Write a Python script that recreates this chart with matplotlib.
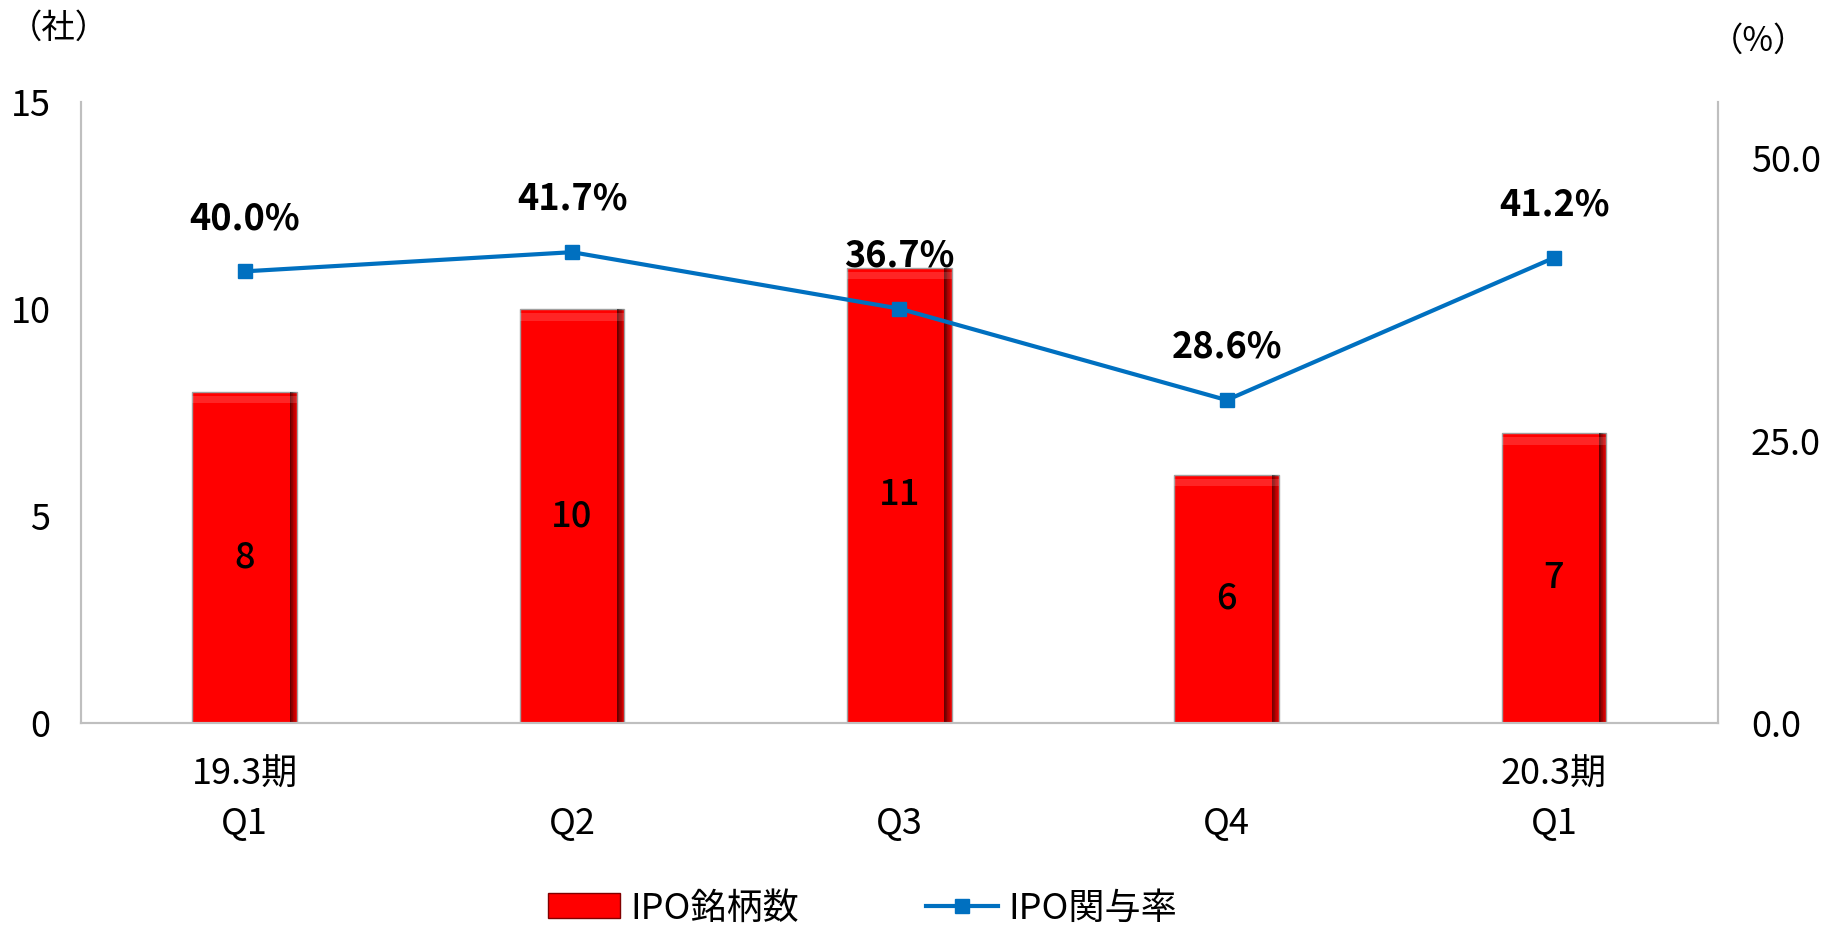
import numpy as np
import matplotlib.pyplot as plt
from matplotlib.lines import Line2D
from matplotlib.patches import Patch

plt.rcParams['font.family'] = ['Noto Sans CJK JP', 'DejaVu Sans']

# データ
quarters = ['19.3期\nQ1', '\nQ2', '\nQ3', '\nQ4', '20.3期\nQ1']
ipo_count = [8, 10, 11, 6, 7]
ipo_rate = [40.0, 41.7, 36.7, 28.6, 41.2]

red = '#FF0000'
blue = '#0070C0'
grey = '#BFBFBF'

fig = plt.figure(figsize=(18.43, 9.27), dpi=100)
ax = fig.add_axes([0.044, 0.22, 0.888, 0.67])
ax2 = ax.twinx()

x = np.arange(len(quarters))
bars = ax.bar(x, ipo_count, width=0.32, color=red, edgecolor='#A0A0A0', linewidth=1, zorder=2)

# 立体っぽい縁取り
for b in bars:
    bx, bw, bh = b.get_x(), b.get_width(), b.get_height()
    for i in range(10):
        ax.bar(bx + bw - bw * 0.07 * (i + 1) / 10, bh, width=bw * 0.07 / 10, align='edge',
               color='black', alpha=0.06 * (i + 1), linewidth=0, zorder=3)
    ax.bar(bx, 0.18, bottom=bh - 0.28, width=bw, align='edge', color='white', alpha=0.15,
           linewidth=0, zorder=3)
    ax.text(b.get_x() + bw / 2, bh / 2, str(bh), ha='center', va='center',
            fontsize=26, fontweight='medium', zorder=5)

ax.set_xlim(-0.5, len(quarters) - 0.5)
ax.set_ylim(0, 15)
ax.set_yticks([0, 5, 10, 15])
ax.set_xticks(x)
ax.set_xticklabels(quarters, fontsize=26, linespacing=1.5)

ax2.plot(x, ipo_rate, color=blue, linewidth=3, marker='s', markersize=10, zorder=4)
ax2.set_ylim(0, 55)
ax2.set_yticks([0, 25, 50])
ax2.set_yticklabels(['%.1f' % v for v in [0, 25, 50]])
for xi, v in zip(x, ipo_rate):
    ax2.annotate('%.1f%%' % v, (xi, v), xytext=(0, 38), textcoords='offset points',
                 ha='center', va='center', fontsize=26, fontweight='bold')

for a in (ax, ax2):
    a.spines['top'].set_visible(False)
    for s in ('left', 'right', 'bottom'):
        a.spines[s].set_color(grey)
        a.spines[s].set_linewidth(1.5)
    a.tick_params(length=0, labelsize=26)
ax.tick_params(axis='y', pad=22)
ax.tick_params(axis='x', pad=24)
ax2.tick_params(axis='y', pad=24)

fig.text(0.005, 0.97, '（社）', fontsize=24, ha='left', va='center')
fig.text(0.928, 0.955, '（%）', fontsize=24, ha='left', va='center')

handles = [Patch(facecolor=red, edgecolor='#800000'),
           Line2D([0], [0], color=blue, linewidth=3, marker='s', markersize=10)]
fig.legend(handles, ['IPO銘柄数', 'IPO関与率'], loc='center', bbox_to_anchor=(0.468, 0.02),
           ncol=2, frameon=False, fontsize=26, handlelength=2.0, columnspacing=3.5, handletextpad=0.3)

fig.savefig('out.png', dpi=100)
